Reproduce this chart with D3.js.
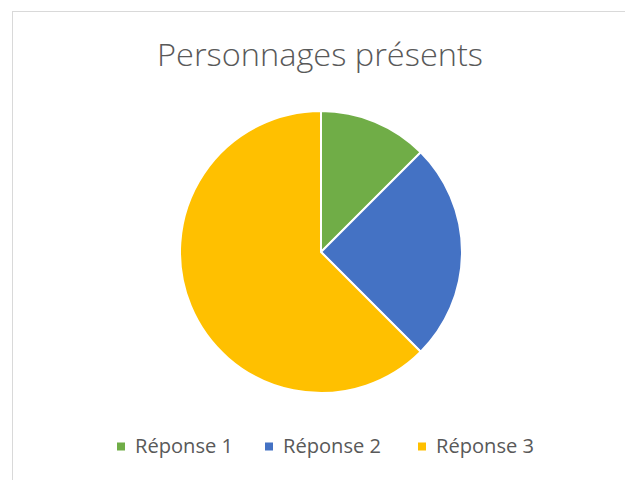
<!doctype html>
<html>
<head>
  <script src="https://cdnjs.cloudflare.com/ajax/libs/d3/7.8.5/d3.min.js"></script>
  <style>
    body { margin: 0; background: #fff; }
    svg { display: block; }
  </style>
</head>
<body>
  <svg id="chart" width="625" height="480"></svg>
<script>
  var categories = ["Réponse 1", "Réponse 2", "Réponse 3"];
  var values = [1, 2, 5];
  var colors = ["#70ad47", "#4472c4", "#ffc000"];
  var title = "Personnages présents";

  var svg = d3.select("#chart");

  // chart frame (runs off the right and bottom edges)
  svg.append("rect")
    .attr("x", 12.5).attr("y", 11.5)
    .attr("width", 640).attr("height", 500)
    .attr("fill", "#fff")
    .attr("stroke", "#d9d9d9")
    .attr("stroke-width", 1);

  svg.append("text")
    .attr("x", 320).attr("y", 66)
    .attr("text-anchor", "middle")
    .attr("font-family", "'Open Sans', sans-serif")
    .attr("font-weight", 300)
    .attr("font-size", 32)
    .attr("fill", "#595959")
    .attr("textLength", 326)
    .attr("lengthAdjust", "spacingAndGlyphs")
    .text(title);

  var cx = 321, cy = 252, r = 141;
  var pie = d3.pie().sort(null).value(function(d) { return d; });
  var arc = d3.arc().innerRadius(0).outerRadius(r);

  svg.append("g")
    .attr("transform", "translate(" + cx + "," + cy + ")")
    .selectAll("path")
    .data(pie(values))
    .join("path")
    .attr("d", arc)
    .attr("fill", function(d, i) { return colors[i]; })
    .attr("stroke", "#fff")
    .attr("stroke-width", 2);

  // legend
  var legendX = [117, 265, 418];
  var item = svg.append("g").selectAll("g")
    .data(categories)
    .join("g")
    .attr("transform", function(d, i) { return "translate(" + legendX[i] + ",446.5)"; });
  item.append("rect")
    .attr("x", 0).attr("y", -4)
    .attr("width", 8).attr("height", 8)
    .attr("fill", function(d, i) { return colors[i]; });
  item.append("text")
    .attr("x", 18).attr("y", 6.5)
    .attr("font-family", "'Open Sans', sans-serif")
    .attr("font-size", 19.5)
    .attr("fill", "#595959")
    .attr("textLength", 98)
    .attr("lengthAdjust", "spacingAndGlyphs")
    .text(function(d) { return d; });
</script>
</body>
</html>
